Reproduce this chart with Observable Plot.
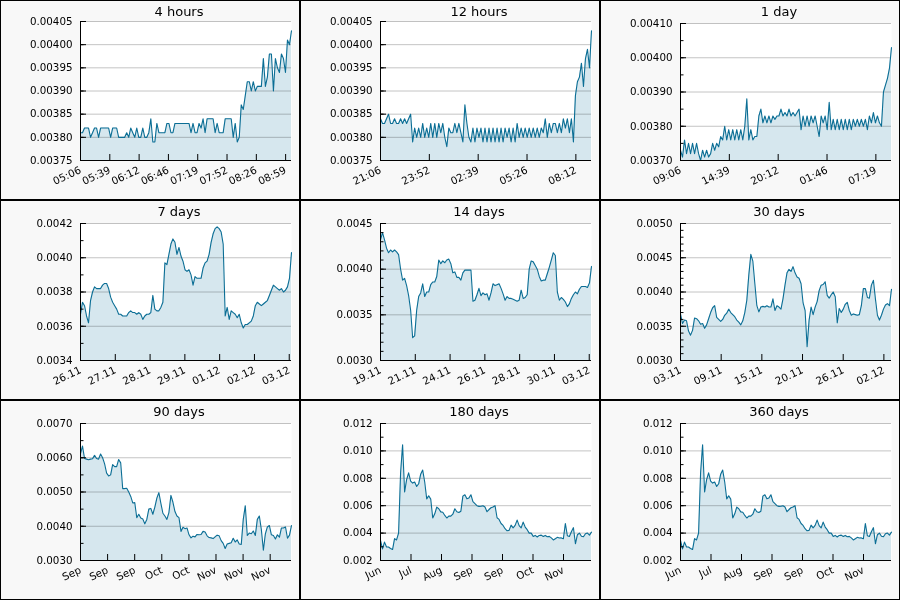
<!DOCTYPE html>
<html><head><meta charset="utf-8">
<script src="https://cdn.jsdelivr.net/npm/d3@7"></script>
<script src="https://cdn.jsdelivr.net/npm/@observablehq/plot@0.6"></script>
<style>
body{margin:0;background:#fff;}
#grid{display:grid;grid-template-columns:repeat(3,300px);grid-template-rows:repeat(3,200px);width:900px;height:600px;}
.cell{box-sizing:border-box;border:1px solid #000;background:#f8f8f8;overflow:hidden;}
.cell svg{display:block;}
</style></head><body><div id="grid"></div>
<script>
// All price values are in units of 0.00001
const UNIT = 1e-5;

const titles = ["4 hours","12 hours","1 day","7 days","14 days","30 days","90 days","180 days","360 days"];

const v4h = [381,381,382,382,382,380,381,382,382,380,382,382,382,382,382,380,382,382,382,380,380,380,380,381,380,382,381,380,382,380,380,382,380,380,381,384,379,379,383,381,381,381,381,383,383,381,381,383,383,383,383,383,383,383,383,381,383,381,381,383,382,384,381,384,384,384,384,381,383,381,381,381,384,384,384,384,380,383,379,380,387,386,389,392,392,390,392,390,391,391,391,397,391,393,398,398,390,397,395,394,398,397,394,401,400,403];

const v12h = [384,383,383,384,385,383,383,384,383,383,384,383,384,383,384,385,379,382,380,382,380,383,380,382,380,383,380,383,380,383,381,383,380,378,382,381,381,383,381,383,381,379,387,383,380,379,382,379,382,380,382,379,382,379,382,379,382,379,382,379,382,379,382,380,382,379,382,379,383,380,382,380,382,380,382,380,382,380,382,380,382,381,384,380,383,381,383,383,381,383,381,384,382,384,381,384,379,389,392,393,396,391,397,399,395,403];

const v1d = [373,371,376,372,375,372,375,372,375,372,370,373,371,373,371,372,375,373,375,374,377,376,380,376,379,376,379,376,379,376,379,376,380,388,376,379,376,377,377,383,385,381,383,381,383,381,383,382,383,383,385,383,384,383,385,383,384,383,384,385,379,383,380,383,380,383,381,383,380,377,383,381,383,379,387,379,382,379,382,379,382,379,382,379,382,379,382,380,382,380,382,380,382,379,383,381,384,381,383,381,380,390,392,394,397,403];

const v7d = [367,374,372,366,362,375,380,383,382,382,382,384,385,385,382,377,374,372,370,367,367,366,366,366,368,369,368,368,367,368,367,364,366,367,367,368,378,370,369,369,371,374,397,396,402,408,411,409,402,406,401,398,393,392,393,390,384,389,388,388,388,394,397,398,402,409,414,417,418,417,415,408,366,371,364,369,368,367,365,367,362,359,361,361,362,363,366,372,374,373,372,373,374,375,378,381,384,383,382,381,382,380,381,383,388,403];

const v14d = [432,440,432,423,418,421,419,421,419,416,400,388,390,382,371,355,325,327,355,370,374,384,370,375,375,383,386,386,392,410,406,409,407,410,411,406,396,397,391,391,388,396,399,399,399,399,365,366,372,379,371,374,372,373,366,374,384,382,383,384,379,373,366,370,368,368,367,366,365,366,377,368,369,372,400,409,408,404,400,392,387,388,388,395,402,410,418,415,375,366,369,367,364,359,362,368,372,375,373,378,381,381,381,380,385,403];

const v30d = [368,354,359,358,343,337,344,362,361,358,353,354,347,352,361,370,377,380,363,360,357,360,366,369,375,370,367,364,359,356,352,358,370,388,425,455,445,412,380,371,378,379,378,380,378,378,390,373,380,378,375,390,410,428,433,430,437,428,422,420,412,384,373,320,359,378,367,378,386,402,410,411,415,395,391,396,400,393,355,376,370,375,382,385,373,366,368,367,366,367,380,405,405,392,391,410,417,390,366,359,366,375,381,383,380,404];

const v90d = [612,634,598,596,594,596,597,607,598,596,611,600,582,555,547,550,580,574,574,595,585,510,510,511,500,487,468,469,425,435,424,421,407,420,450,452,435,456,482,498,467,438,430,420,440,490,470,443,430,425,385,397,393,395,375,366,371,369,376,375,376,385,383,372,367,366,364,369,374,372,358,350,335,348,350,352,365,354,360,348,347,420,460,373,380,378,386,373,420,430,390,330,378,398,402,375,373,363,375,368,395,395,398,365,374,402];

const v180d = [346,285,334,298,298,288,280,360,350,400,840,1045,700,790,840,780,765,773,740,760,830,860,773,650,672,648,510,541,590,578,555,552,529,510,524,524,538,578,556,550,560,670,680,650,656,680,630,615,600,595,596,600,590,556,572,585,590,600,512,500,470,456,432,417,420,458,438,456,495,455,438,480,444,425,400,400,376,383,372,383,385,375,383,373,376,365,350,359,369,364,365,359,470,380,375,410,440,322,388,400,377,373,395,400,385,407];
const v360d = v180d; // the 360-day panel shows the same trace

const x4h = ["05:06","05:39","06:12","06:46","07:19","07:52","08:26","08:59"];
const x12h = ["21:06","23:52","02:39","05:26","08:12"];
const x1d = ["09:06","14:39","20:12","01:46","07:19"];
const x7d = ["26.11","27.11","28.11","29.11","01.12","02.12","03.12"];
const x14d = ["19.11","21.11","24.11","26.11","28.11","30.11","03.12"];
const x30d = ["03.11","09.11","15.11","20.11","26.11","02.12"];
const x90d = ["Sep","Sep","Sep","Oct","Oct","Nov","Nov","Nov"];
const x180d = ["Jun","Jul","Aug","Sep","Sep","Oct","Nov"];
const x360d = ["Jun","Jul","Aug","Sep","Sep","Oct","Nov"];

// span and tick step in hours
const spans = [4, 12, 24, 168, 336, 720, 2160, 4320, 8640];
const xSteps = [4/7.2, 12/4.32, 24/4.32, 27.7, 55.4, 138.8, 277.4, 624.5, 1249];
// y domain, major and minor tick steps (units of 0.00001), decimals
const yDomains = [[375,405],[375,405],[370,410],[340,420],[300,450],[300,500],[300,700],[200,1200],[200,1200]];
const yMajor = [5,5,10,20,50,50,100,200,200];
const yMinor = [5,5,5,10,10,10,50,100,100];
const yDecimals = [5,5,5,4,4,4,4,3,3];

const series = [v4h, v12h, v1d, v7d, v14d, v30d, v90d, v180d, v360d];
const xLabels = [x4h, x12h, x1d, x7d, x14d, x30d, x90d, x180d, x360d];

const LINE = "#0b6e95", FILL = "#d6e7ee";

function panel(k) {
  const vals = series[k], n = vals.length, span = spans[k];
  const data = vals.map((v, i) => ({t: i * span / (n - 1), v: v * UNIT}));
  const [lo, hi] = yDomains[k].map(d => d * UNIT);
  const major = d3.range(yDomains[k][0], yDomains[k][1] + 1e-9, yMajor[k]).map(d => d * UNIT);
  const minor = d3.range(yDomains[k][0], yDomains[k][1] + 1e-9, yMinor[k]).map(d => d * UNIT);
  const xt = xLabels[k].map((_, i) => i * xSteps[k]);
  const lab = new Map(xt.map((t, i) => [t, xLabels[k][i]]));
  const mt = k < 2 ? 20 : 22;
  return Plot.plot({
    width: 298, height: 198,
    marginLeft: 79, marginRight: 8, marginTop: mt, marginBottom: 39,
    style: {fontFamily: "DejaVu Sans", fontSize: "10px", background: "transparent", color: "#000", overflow: "visible"},
    x: {domain: [0, span], label: null},
    y: {domain: [lo, hi], label: null},
    marks: [
      Plot.frame({fill: "#fff", stroke: null}),
      Plot.area(data, {x1: "t", y1: lo, y2: "v", fill: FILL}),
      Plot.ruleY(major, {stroke: "#c4c4c4", strokeWidth: 1, mixBlendMode: "multiply"}),
      Plot.lineY(data, {x: "t", y: "v", stroke: LINE, strokeWidth: 1.1}),
      Plot.ruleX([0], {stroke: "#000"}),
      Plot.ruleY([lo], {stroke: "#000"}),
      Plot.axisY(minor, {tickSize: -3.5, fill: "none", label: null}),
      Plot.axisY(major, {tickSize: -6, fill: "none", label: null}),
      Plot.axisY(major, {tickSize: 0, tickPadding: 8, tickFormat: d => d.toFixed(yDecimals[k]), label: null, fontSize: 10.3}),
      Plot.axisX(xt, {tickSize: -6, fill: "none", label: null}),
      Plot.axisX(xt, {tickSize: 0, tickPadding: 9, tickRotate: -25, textAnchor: "end", tickFormat: d => lab.get(d), label: null, fontSize: 10.3}),
      Plot.text([titles[k]], {text: d => d, frameAnchor: "top", dy: 5 - mt, dx: -7, fontSize: 13, fill: "#000"})
    ]
  });
}

const grid = document.getElementById("grid");
for (let k = 0; k < 9; k++) {
  const cell = document.createElement("div");
  cell.className = "cell";
  cell.appendChild(panel(k));
  grid.appendChild(cell);
}
</script>
</body></html>
